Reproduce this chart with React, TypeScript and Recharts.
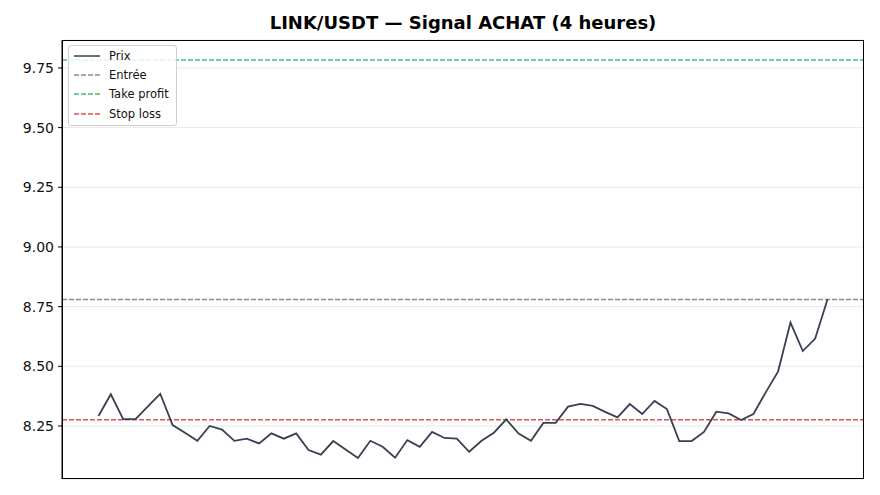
import { LineChart, Line, XAxis, YAxis, CartesianGrid, ReferenceLine } from "recharts";

const FONT = "'DejaVu Sans', sans-serif";

// prix de clôture 4h
const prices = [
  8.292, 8.383, 8.279, 8.279, 8.332, 8.385, 8.254, 8.222, 8.188, 8.25,
  8.235, 8.188, 8.197, 8.177, 8.219, 8.197, 8.219, 8.149, 8.13, 8.187,
  8.152, 8.116, 8.188, 8.163, 8.117, 8.191, 8.163, 8.225, 8.2, 8.197,
  8.142, 8.188, 8.222, 8.278, 8.218, 8.188, 8.263, 8.263, 8.331, 8.343,
  8.334, 8.309, 8.286, 8.342, 8.3, 8.355, 8.321, 8.187, 8.187, 8.225,
  8.31, 8.303, 8.275, 8.3, 8.391, 8.479, 8.683, 8.564, 8.616, 8.781,
];

const entry = 8.78;
const takeProfit = 9.783;
const stopLoss = 8.276;

const yTicks = [8.25, 8.5, 8.75, 9.0, 9.25, 9.5, 9.75];

const legendItems = [
  { label: "Prix", color: "#374151", dashed: false },
  { label: "Entrée", color: "#8a8d99", dashed: true },
  { label: "Take profit", color: "#48bb78", dashed: true },
  { label: "Stop loss", color: "#e05252", dashed: true },
];

const data = prices.map((p, i) => ({ i, price: p }));

const SignalLegend = () => (
  <div
    style={{
      position: "absolute",
      top: 45,
      left: 68,
      border: "1px solid #d0d0d0",
      borderRadius: 3,
      background: "rgba(255,255,255,0.85)",
      padding: "0px 7px 2px 5px",
      fontFamily: FONT,
      fontSize: 11.5,
      color: "#111",
    }}
  >
    {legendItems.map((it) => (
      <div key={it.label} style={{ display: "flex", alignItems: "center", height: 19.3 }}>
        <svg width={26} height={6} style={{ marginRight: 9 }}>
          <line
            x1={0}
            y1={3}
            x2={26}
            y2={3}
            stroke={it.color}
            strokeWidth={1.5}
            strokeDasharray={it.dashed ? "5 2" : undefined}
          />
        </svg>
        <span>{it.label}</span>
      </div>
    ))}
  </div>
);

export default function App() {
  return (
    <div style={{ position: "absolute", top: 0, left: 0, width: 880, height: 495, background: "#fff" }}>
      <div
        style={{
          position: "absolute",
          top: 12,
          left: 62,
          width: 802,
          textAlign: "center",
          fontFamily: FONT,
          fontWeight: "bold",
          fontSize: 18,
          color: "#000",
        }}
      >
        LINK/USDT — Signal ACHAT (4 heures)
      </div>
      <LineChart width={880} height={495} data={data} margin={{ top: 40, right: 16, bottom: 16, left: 12 }}>
        <CartesianGrid vertical={false} stroke="#e8e8e8" strokeWidth={1} />
        <XAxis dataKey="i" type="number" domain={[-2.95, 61.95]} hide />
        <YAxis
          type="number"
          domain={[8.028, 9.867]}
          ticks={yTicks}
          width={50}
          tickFormatter={(v: number) => v.toFixed(2)}
          tick={{ fill: "#111", fontSize: 14, fontFamily: FONT }}
          tickLine={{ stroke: "#000" }}
          tickSize={4}
          tickMargin={4}
          axisLine={{ stroke: "#000", strokeWidth: 1 }}
          interval={0}
        />
        <ReferenceLine y={takeProfit} stroke="#48bb78" strokeWidth={1.5} strokeDasharray="5 2" />
        <ReferenceLine y={entry} stroke="#8a8d99" strokeWidth={1.5} strokeDasharray="5 2" />
        <ReferenceLine y={stopLoss} stroke="#e05252" strokeWidth={1.5} strokeDasharray="5 2" />
        <Line
          type="linear"
          dataKey="price"
          stroke="#374151"
          strokeWidth={1.8}
          dot={false}
          isAnimationActive={false}
        />
      </LineChart>
      {/* cadre du graphique */}
      <div
        style={{
          position: "absolute",
          left: 62,
          top: 40,
          width: 802,
          height: 439,
          boxSizing: "border-box",
          border: "1px solid #000",
          pointerEvents: "none",
        }}
      />
      <SignalLegend />
    </div>
  );
}
